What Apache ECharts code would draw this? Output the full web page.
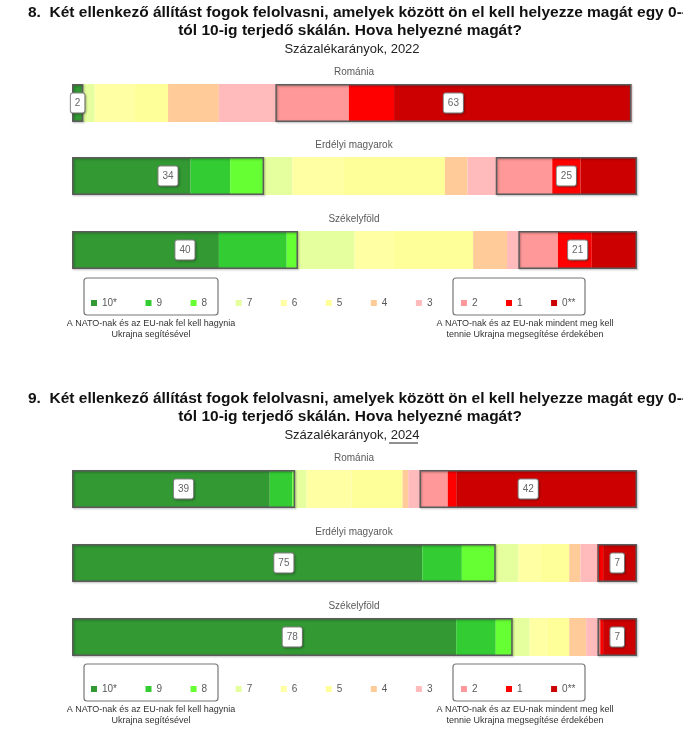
<!DOCTYPE html>
<html><head><meta charset="utf-8">
<script src="https://cdn.jsdelivr.net/npm/echarts@6/dist/echarts.min.js"></script>
<style>html,body{margin:0;padding:0;background:#fff}#c{width:683px;height:750px}</style>
</head><body><div id="c"></div>
<script>
// Scale categories (10 = stop helping Ukraine ... 0 = do everything)
const scaleNames = ['10*','9','8','7','6','5','4','3','2','1','0**'];
const scaleColors = ['#339933','#33cc33','#66ff33','#e6ff9e','#ffffa3','#ffff99','#ffcc99','#ffbbbb','#ff9999','#ff0000','#cc0000'];
const regionNames = ['Románia','Erdélyi magyarok','Székelyföld'];

// 2022 values (percent), order: 10,9,8,7,6,5,4,3,2,1,0
const romania2022 = [2,0,0,2,7,6,9,10,13,8,42];
const erdely2022  = [21,7,6,5,9,18,4,5,10,5,10];
const szekely2022 = [26,12,2,10,7,14,6,2,7,6,8];
// 2024 values (percent)
const romania2024 = [35,4,0.5,2,8,9,1,2,5,1.5,32];
const erdely2024  = [62,7,6,4,4,5,2,3,0,1,6];
const szekely2024 = [68,7,3,3,3,4,3,2,0.5,0.5,6];

// Printed group totals (10-8 and 2-0)
const greenLabels2022 = [2,34,40];
const redLabels2022   = [63,25,21];
const greenLabels2024 = [39,75,78];
const redLabels2024   = [42,7,7];

const bars = [romania2022, erdely2022, szekely2022, romania2024, erdely2024, szekely2024];
const greenLabels = greenLabels2022.concat(greenLabels2024);
const redLabels = redLabels2022.concat(redLabels2024);

const gridTops = [84,157,231,470,544,618];
const barH = 38;
const FONT = '"Liberation Sans", Arial, sans-serif';

const grids = [], xAxes = [], yAxes = [], series = [];
const sum = (a, s, e) => a.slice(s, e).reduce((p, c) => p + c, 0);

bars.forEach((vals, i) => {
  grids.push({left: 72, right: 46, top: gridTops[i], height: barH});
  xAxes.push({type: 'value', gridIndex: i, min: 0, max: 100, show: false});
  yAxes.push({type: 'category', gridIndex: i, data: [regionNames[i % 3]], show: false});
  vals.forEach((v, k) => {
    series.push({
      type: 'bar', name: scaleNames[k], xAxisIndex: i, yAxisIndex: i, stack: 's' + i,
      barWidth: '100%', barGap: '-100%', silent: true,
      itemStyle: {color: scaleColors[k]}, data: [v]
    });
  });
  const boxLabel = (txt) => ({
    show: true, position: 'inside', formatter: String(txt),
    backgroundColor: '#fff', borderColor: '#8a8a8a', borderWidth: 1, borderRadius: 2,
    padding: [5, 4, 4, 4], color: '#666', fontSize: 10, fontFamily: FONT,
    shadowColor: 'rgba(0,0,0,0.25)', shadowBlur: 2, shadowOffsetX: 1, shadowOffsetY: 1
  });
  const boxStyle = {color: 'rgba(0,0,0,0)', borderColor: '#5c5c5c', borderWidth: 1.5,
    shadowColor: 'rgba(0,0,0,0.3)', shadowBlur: 2, shadowOffsetX: 1, shadowOffsetY: 1};
  series.push({type: 'bar', name: 'g' + i, xAxisIndex: i, yAxisIndex: i, stack: 'b' + i,
    barWidth: '100%', silent: true, itemStyle: boxStyle, label: boxLabel(greenLabels[i]),
    data: [sum(vals, 0, 3)]});
  series.push({type: 'bar', name: 'm' + i, xAxisIndex: i, yAxisIndex: i, stack: 'b' + i,
    barWidth: '100%', silent: true, itemStyle: {color: 'rgba(0,0,0,0)'},
    data: [sum(vals, 3, 8)]});
  series.push({type: 'bar', name: 'r' + i, xAxisIndex: i, yAxisIndex: i, stack: 'b' + i,
    barWidth: '100%', silent: true, itemStyle: boxStyle, label: boxLabel(redLabels[i]),
    data: [sum(vals, 8, 11)]});
});

const legendBase = {
  data: scaleNames, left: 86, icon: 'rect', itemWidth: 6, itemHeight: 6, itemGap: 28.5,
  textStyle: {fontSize: 10, color: '#595959', fontFamily: FONT}, selectedMode: false
};

const graphics = [];
function txt(x, y, text, opt) {
  graphics.push({type: 'text', x: x, y: y, silent: true,
    style: Object.assign({text: text, textAlign: 'center', textVerticalAlign: 'middle',
      fill: '#000', font: '12px ' + FONT}, opt || {})});
}
const blocks = [
  {off: 0, num: '8.', year: '2022'},
  {off: 386, num: '9.', year: '2024'}
];
blocks.forEach((b, bi) => {
  const o = b.off;
  txt(28, 13 + o, b.num + '  Két ellenkező állítást fogok felolvasni, amelyek között ön el kell helyezze magát egy 0--',
    {textAlign: 'left', font: 'bold 15.5px ' + FONT, fill: '#111'});
  txt(350, 31 + o, 'tól 10-ig terjedő skálán. Hova helyezné magát?', {font: 'bold 15.5px ' + FONT, fill: '#111'});
  txt(352, 49 + o, 'Százalékarányok, ' + b.year, {font: '13px ' + FONT, fill: '#222'});
  for (let r = 0; r < 3; r++) {
    txt(354, gridTops[bi * 3 + r] - 12, regionNames[r], {font: '10px ' + FONT, fill: '#595959'});
  }
  graphics.push({type: 'rect', silent: true, shape: {x: 84, y: 278 + o, width: 134, height: 37, r: 3},
    style: {fill: 'none', stroke: '#777', lineWidth: 1.2}});
  graphics.push({type: 'rect', silent: true, shape: {x: 453, y: 278 + o, width: 132, height: 37, r: 3},
    style: {fill: 'none', stroke: '#777', lineWidth: 1.2}});
  txt(151, 324 + o, 'A NATO-nak és az EU-nak fel kell hagynia', {font: '9px ' + FONT, fill: '#333'});
  txt(151, 335 + o, 'Ukrajna segítésével', {font: '9px ' + FONT, fill: '#333'});
  txt(525, 324 + o, 'A NATO-nak és az EU-nak mindent meg kell', {font: '9px ' + FONT, fill: '#333'});
  txt(525, 335 + o, 'tennie Ukrajna megsegítése érdekében', {font: '9px ' + FONT, fill: '#333'});
});
// underline under "2024"
graphics.push({type: 'line', silent: true, shape: {x1: 389, y1: 443, x2: 418, y2: 443},
  style: {stroke: '#222', lineWidth: 1}});

const chart = echarts.init(document.getElementById('c'));
chart.setOption({
  animation: false,
  grid: grids, xAxis: xAxes, yAxis: yAxes, series: series,
  legend: [Object.assign({top: 293}, legendBase), Object.assign({top: 679}, legendBase)],
  graphic: graphics
});
</script></body></html>
